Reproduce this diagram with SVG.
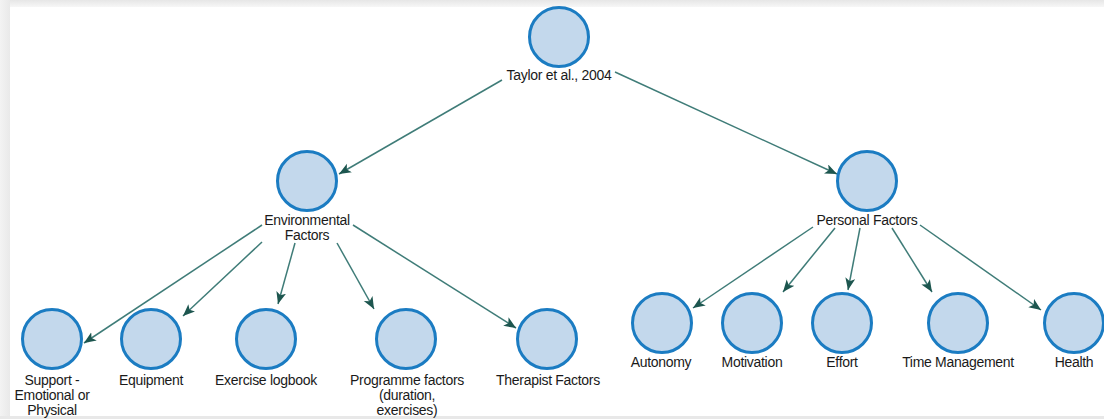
<svg xmlns="http://www.w3.org/2000/svg" width="1104" height="419" viewBox="0 0 1104 419">
<defs>
<linearGradient id="topShade" x1="0" y1="0" x2="0" y2="1"><stop offset="0" stop-color="#e6e6e6"/><stop offset="1" stop-color="#f7f7f7"/></linearGradient>
<linearGradient id="leftShade" x1="0" y1="0" x2="1" y2="0"><stop offset="0" stop-color="#f3f3f3"/><stop offset="1" stop-color="#e9e9e9"/></linearGradient>
<marker id="arr" markerUnits="userSpaceOnUse" markerWidth="14" markerHeight="11" refX="12" refY="5" orient="auto">
<path d="M0,0 L12,5 L0,10 L3,5 z" fill="#1d564f"/>
</marker>
</defs>
<style>
.node circle{fill:#c3d8ec;stroke:#1b7cc2;stroke-width:3}
text{font-family:"Liberation Sans",Arial,sans-serif;font-size:14px;letter-spacing:-0.3px;fill:#1a1a1a;text-anchor:middle}
.edge{stroke:#3f7c78;stroke-width:1.5;fill:none;marker-end:url(#arr)}
</style>
<rect width="1104" height="419" fill="#ffffff"/>
<rect x="0" y="0" width="1104" height="7" fill="url(#topShade)"/>
<rect x="0" y="0" width="10" height="419" fill="url(#leftShade)"/>
<rect x="0" y="416" width="1104" height="3" fill="#e8e8e8"/>
<g id="connectors">
<line class="edge" x1="502" y1="80" x2="339" y2="174"/>
<line class="edge" x1="615" y1="72" x2="837" y2="174"/>
<line class="edge" x1="262" y1="225" x2="84" y2="343"/>
<line class="edge" x1="262" y1="242" x2="183" y2="316"/>
<line class="edge" x1="295" y1="243" x2="278" y2="304"/>
<line class="edge" x1="337" y1="243" x2="374" y2="309"/>
<line class="edge" x1="353" y1="225" x2="516" y2="328"/>
<line class="edge" x1="813" y1="227" x2="693" y2="308"/>
<line class="edge" x1="835" y1="228" x2="783" y2="292"/>
<line class="edge" x1="860" y1="228" x2="848" y2="290"/>
<line class="edge" x1="892" y1="228" x2="932" y2="292"/>
<line class="edge" x1="920" y1="225" x2="1041" y2="310"/>
</g>
<g id="taylor" class="node"><circle cx="559" cy="37" r="29.5"/><text x="559" y="80">Taylor et al., 2004</text></g>
<g id="environmental" class="node"><circle cx="307" cy="181" r="29.5"/><text x="307" y="225">Environmental</text><text x="307" y="240">Factors</text></g>
<g id="personal" class="node"><circle cx="867" cy="181" r="29.5"/><text x="867" y="225">Personal Factors</text></g>
<g id="support" class="node"><circle cx="52" cy="339" r="29.5"/><text x="52" y="385">Support -</text><text x="52" y="400">Emotional or</text><text x="52" y="415">Physical</text></g>
<g id="equipment" class="node"><circle cx="151" cy="339" r="29.5"/><text x="151" y="385">Equipment</text></g>
<g id="logbook" class="node"><circle cx="266" cy="339" r="29.5"/><text x="266" y="385">Exercise logbook</text></g>
<g id="programme" class="node"><circle cx="406" cy="339" r="29.5"/><text x="407" y="385">Programme factors</text><text x="407" y="400">(duration,</text><text x="407" y="415">exercises)</text></g>
<g id="therapist" class="node"><circle cx="547" cy="339" r="29.5"/><text x="548" y="385">Therapist Factors</text></g>
<g id="autonomy" class="node"><circle cx="662" cy="323" r="29.5"/><text x="661" y="367">Autonomy</text></g>
<g id="motivation" class="node"><circle cx="752" cy="323" r="29.5"/><text x="752" y="367">Motivation</text></g>
<g id="effort" class="node"><circle cx="842" cy="323" r="29.5"/><text x="842" y="367">Effort</text></g>
<g id="time" class="node"><circle cx="958" cy="323" r="29.5"/><text x="958" y="367">Time Management</text></g>
<g id="health" class="node"><circle cx="1074" cy="323" r="29.5"/><text x="1074" y="367">Health</text></g>
</svg>
